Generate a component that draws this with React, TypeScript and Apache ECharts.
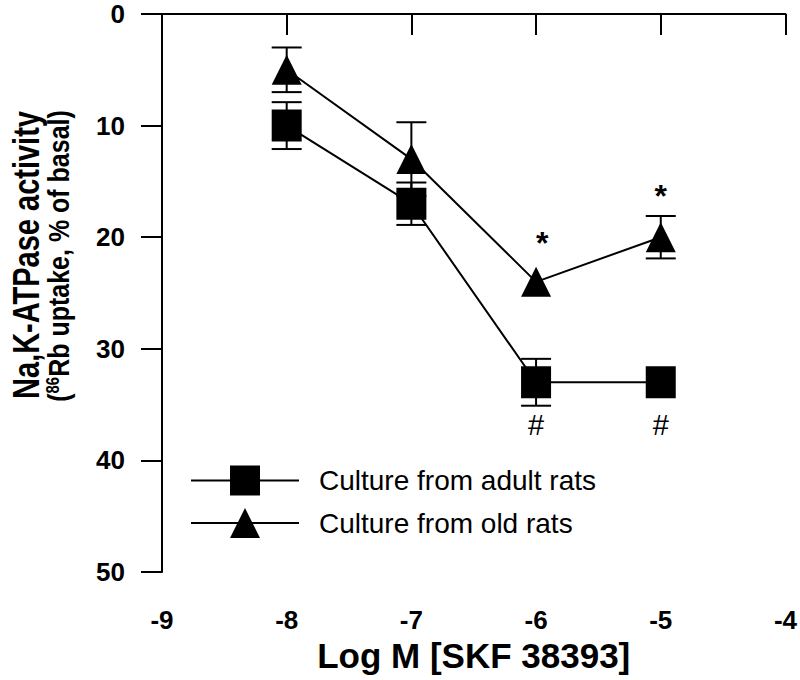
import React, { useEffect, useRef } from "react";
import * as echarts from "echarts";

const xValues = [-8, -7, -6, -5];
const adultMean = [10, 17, 33, 33];
const adultErr = [2.1, 1.9, 2.1, 0];
const oldMean = [5, 13, 24, 20];
const oldErr = [2, 3.3, 0, 1.9];
const starX = [-5.95, -5];
const starY = [20.5, 16.3];
const hashX = [-6, -5];
const hashY = [36.8, 36.8];
const seriesNames = ["Culture from adult rats", "Culture from old rats"];
const xTitle = "Log M [SKF 38393]";
const yTitle1 = "Na,K-ATPase activity";
const yTitle2 = "({sup|86}Rb uptake, % of basal)";

const FONT = "'Liberation Sans', Arial, Helvetica, sans-serif";

function errRender(params: any, api: any) {
  const x = api.value(0);
  const y = api.value(1);
  const e = api.value(2);
  if (!e) return { type: "group", children: [] };
  const top = api.coord([x, y - e]);
  const bot = api.coord([x, y + e]);
  const hw = 15;
  const st = { stroke: "#000", lineWidth: 2 };
  return {
    type: "group",
    children: [
      { type: "line", shape: { x1: top[0], y1: top[1], x2: bot[0], y2: bot[1] }, style: st },
      { type: "line", shape: { x1: top[0] - hw, y1: top[1], x2: top[0] + hw, y2: top[1] }, style: st },
      { type: "line", shape: { x1: bot[0] - hw, y1: bot[1], x2: bot[0] + hw, y2: bot[1] }, style: st },
    ],
  };
}

function makeTextRender(text: string, size: number, weight: string) {
  return (params: any, api: any) => {
    const p = api.coord([api.value(0), api.value(1)]);
    return {
      type: "text",
      x: p[0],
      y: p[1],
      style: {
        text,
        fontSize: size,
        fontWeight: weight,
        fontFamily: FONT,
        fill: "#000",
        align: "center",
        verticalAlign: "middle",
      },
    };
  };
}

export default function App() {
  const ref = useRef<HTMLDivElement>(null);
  useEffect(() => {
    if (!ref.current) return;
    const chart = echarts.init(ref.current, null, { renderer: "svg" });
    const axisCommon = {
      axisLine: { show: true, lineStyle: { color: "#000", width: 2 } },
      axisTick: { show: true, length: 21, lineStyle: { color: "#000", width: 2 } },
      splitLine: { show: false },
    };
    chart.setOption({
      animation: false,
      backgroundColor: "#fff",
      textStyle: { fontFamily: FONT },
      grid: { left: 162, right: 10.5, top: 14, bottom: 108 },
      xAxis: {
        type: "value",
        min: -9,
        max: -4,
        interval: 1,
        ...axisCommon,
        axisLabel: { margin: 35, fontSize: 26, fontWeight: "bold", color: "#000", fontFamily: FONT },
        name: xTitle,
        nameLocation: "middle",
        nameGap: 65,
        nameTextStyle: { fontSize: 35, fontWeight: "bold", color: "#000", fontFamily: FONT },
      },
      yAxis: {
        type: "value",
        min: 0,
        max: 50,
        interval: 10,
        inverse: true,
        ...axisCommon,
        axisLabel: { margin: 37, fontSize: 26, fontWeight: "bold", color: "#000", fontFamily: FONT },
      },
      legend: {
        data: seriesNames,
        orient: "vertical",
        left: 190,
        top: 465.5,
        padding: 0,
        itemWidth: 108,
        itemHeight: 37.5,
        itemGap: 12.5,
        selectedMode: false,
        textStyle: { fontSize: 28, color: "#000", fontFamily: FONT, padding: [0, 0, 0, 15] },
      },
      graphic: [
        {
          type: "text",
          x: 26,
          y: 255,
          rotation: Math.PI / 2,
          scaleY: 1.25,
          style: {
            text: yTitle1,
            fontSize: 29,
            fontWeight: "bold",
            fontFamily: FONT,
            fill: "#000",
            align: "center",
            verticalAlign: "middle",
          },
        },
        {
          type: "text",
          x: 59,
          y: 256,
          rotation: Math.PI / 2,
          scaleY: 1.2,
          style: {
            text: yTitle2,
            fontSize: 25,
            fontWeight: "bold",
            fontFamily: FONT,
            fill: "#000",
            align: "center",
            verticalAlign: "middle",
            rich: {
              sup: {
                fontSize: 15,
                fontWeight: "bold",
                fontFamily: FONT,
                fill: "#000",
                verticalAlign: "top",
                padding: [0, 0, 8, 0],
              },
            },
          },
        },
      ],
      series: [
        {
          name: "adultErr",
          type: "custom",
          renderItem: errRender,
          data: xValues.map((x, i) => [x, adultMean[i], adultErr[i]]),
          encode: { x: 0, y: 1 },
          z: 2,
        },
        {
          name: "oldErr",
          type: "custom",
          renderItem: errRender,
          data: xValues.map((x, i) => [x, oldMean[i], oldErr[i]]),
          encode: { x: 0, y: 1 },
          z: 2,
        },
        {
          name: seriesNames[0],
          type: "line",
          data: xValues.map((x, i) => [x, adultMean[i]]),
          symbol: "rect",
          symbolSize: [30, 32],
          color: "#000",
          itemStyle: { color: "#000" },
          lineStyle: { color: "#000", width: 2 },
          z: 3,
        },
        {
          name: seriesNames[1],
          type: "line",
          data: xValues.map((x, i) => [x, oldMean[i]]),
          symbol: "triangle",
          symbolSize: [30, 30],
          color: "#000",
          itemStyle: { color: "#000" },
          lineStyle: { color: "#000", width: 2 },
          z: 3,
        },
        {
          name: "stars",
          type: "custom",
          renderItem: makeTextRender("*", 32, "bold"),
          data: starX.map((x, i) => [x, starY[i]]),
          encode: { x: 0, y: 1 },
          z: 4,
        },
        {
          name: "hashes",
          type: "custom",
          renderItem: makeTextRender("#", 29, "normal"),
          data: hashX.map((x, i) => [x, hashY[i]]),
          encode: { x: 0, y: 1 },
          z: 4,
        },
      ],
    });
    return () => chart.dispose();
  }, []);
  return (
    <div
      ref={ref}
      style={{ position: "fixed", left: 0, top: 0, width: 800, height: 680, background: "#fff" }}
    />
  );
}
